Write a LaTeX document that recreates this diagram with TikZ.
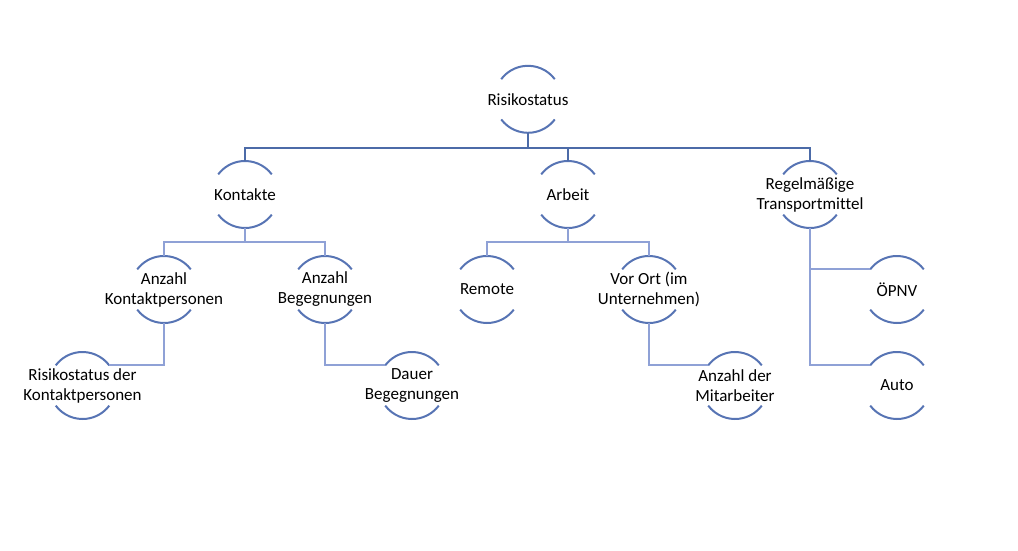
\documentclass[tikz,border=0pt]{standalone}
\usepackage{fontspec}
\setmainfont{Carlito}[Ligatures=NoCommon]
\usetikzlibrary{calc}
\definecolor{arcblue}{HTML}{5774B4}
\definecolor{topblue}{HTML}{4C6BA8}
\definecolor{lowblue}{HTML}{8FA1D6}
\tikzset{
  txt/.style={inner sep=0pt, align=center, font=\fontsize{17}{20}\selectfont, text=black},
  arcst/.style={draw=arcblue, line width=2pt},
  conntop/.style={draw=topblue, line width=1.8pt},
  connlow/.style={draw=lowblue, line width=1.8pt},
}
\newcommand\circnode[4]{%
  \node[txt] (#1) at (#2,#3) {#4};
  \draw[arcst] ($(#1.center)+(37:33.5)$) arc[start angle=37, end angle=143, radius=33.5];
  \draw[arcst] ($(#1.center)+(217:33.5)$) arc[start angle=217, end angle=323, radius=33.5];
  \coordinate (#1-t) at ($(#1.center)+(0,33.5)$);
  \coordinate (#1-b) at ($(#1.center)+(0,-33.5)$);
  \coordinate (#1-l) at ($(#1.center)+(143:33.5)$);
  \coordinate (#1-r) at ($(#1.center)+(37:33.5)$);
}
\begin{document}
\begin{tikzpicture}[x=1pt,y=1pt]
\useasboundingbox (0,0) rectangle (1018,-551);
\fill[white] (0,0) rectangle (1018,-551);

\circnode{rs}{528}{-99.3}{Risikostatus}
\circnode{ko}{245}{-194.5}{Kontakte}
\circnode{ar}{568}{-194.5}{Arbeit}
\circnode{tm}{810}{-194.5}{Regelmäßige\\Transportmittel}
\circnode{akp}{164}{-289.5}{Anzahl\\Kontaktpersonen}
\circnode{abg}{325}{-289.5}{Anzahl\\Begegnungen}
\circnode{re}{487}{-289.5}{Remote}
\circnode{vo}{649}{-289.5}{Vor Ort (im\\Unternehmen)}
\circnode{oe}{897}{-289.5}{ÖPNV}
\circnode{rkp}{82.5}{-385.5}{Risikostatus der\\Kontaktpersonen}
\circnode{db}{412}{-385.5}{Dauer\\Begegnungen}
\circnode{am}{735}{-385.5}{Anzahl der\\Mitarbeiter}
\circnode{au}{897}{-385.5}{Auto}

% top bus
\coordinate (busA) at (0,-148);
\draw[conntop] (ko-t) -- (ko-t |- busA) -- (tm-t |- busA) -- (tm-t);
\draw[conntop] (rs-b) -- (rs-b |- busA);
\draw[conntop] (ar-t) -- (ar-t |- busA);

% level 3 buses
\coordinate (busB) at (0,-242);
\draw[connlow] (akp-t) -- (akp-t |- busB) -- (abg-t |- busB) -- (abg-t);
\draw[connlow, line width=2.4pt] (ko-b) -- (ko-b |- busB);
\draw[connlow] (re-t) -- (re-t |- busB) -- (vo-t |- busB) -- (vo-t);
\draw[connlow, line width=2.4pt] (ar-b) -- (ar-b |- busB);

% level 4 connectors
\draw[connlow] (akp-b) |- (rkp-r);
\draw[connlow] (abg-b) |- (db-l);
\draw[connlow] (vo-b) |- (am-l);

% transport
\draw[connlow] (tm-b) |- (au-l);
\draw[connlow] (tm-b |- oe-l) -- (oe-l);
\end{tikzpicture}
\end{document}
